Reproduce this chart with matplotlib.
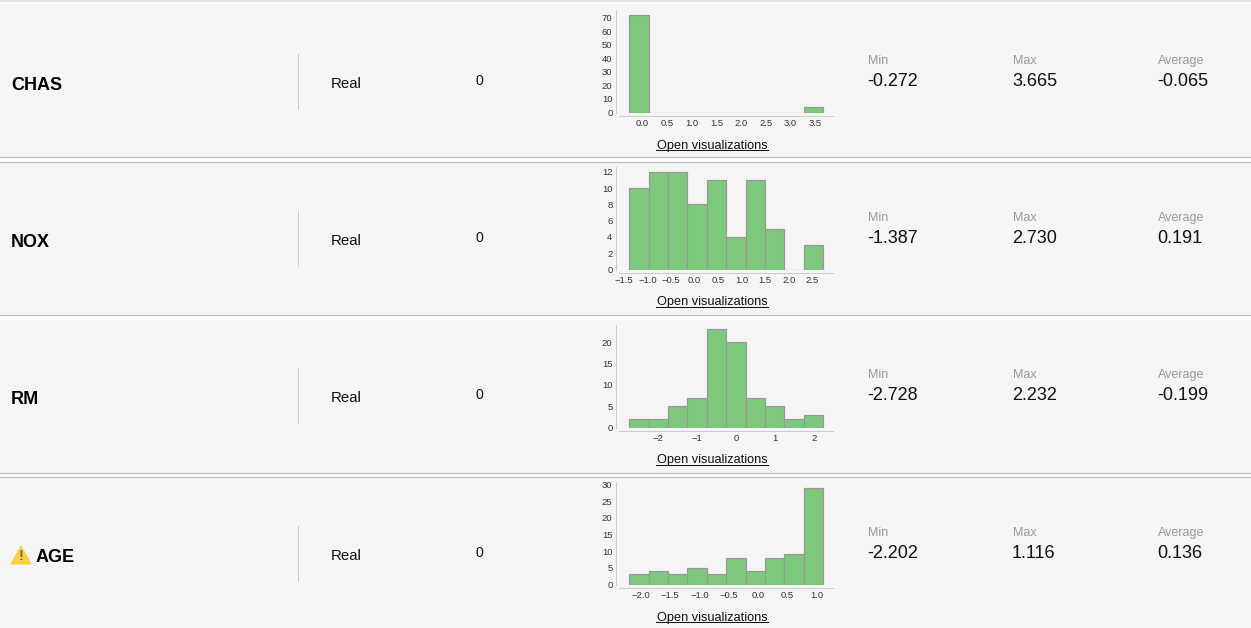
import numpy as np
import matplotlib
matplotlib.use("Agg")
import matplotlib.pyplot as plt
from matplotlib.patches import Polygon, Rectangle

W, H = 1251, 628
plt.rcParams['font.family'] = ['Liberation Sans', 'DejaVu Sans']

names = ["CHAS", "NOX", "RM", "AGE"]
types = ["Real", "Real", "Real", "Real"]
missing = [0, 0, 0, 0]
mins = [-0.272, -1.387, -2.728, -2.202]
maxs = [3.665, 2.730, 2.232, 1.116]
avgs = [-0.065, 0.191, -0.199, 0.136]

chas_counts = [72, 0, 0, 0, 0, 0, 0, 0, 0, 4]
nox_counts = [10, 12, 12, 8, 11, 4, 11, 5, 0, 3]
rm_counts = [2, 2, 5, 7, 23, 20, 7, 5, 2, 3]
age_counts = [3, 4, 3, 5, 3, 8, 4, 8, 9, 29]
counts = [chas_counts, nox_counts, rm_counts, age_counts]

xticks = [
    [0.0, 0.5, 1.0, 1.5, 2.0, 2.5, 3.0, 3.5],
    [-1.5, -1.0, -0.5, 0.0, 0.5, 1.0, 1.5, 2.0, 2.5],
    [-2, -1, 0, 1, 2],
    [-2.0, -1.5, -1.0, -0.5, 0.0, 0.5, 1.0],
]
yticks = [
    [0, 10, 20, 30, 40, 50, 60, 70],
    [0, 2, 4, 6, 8, 10, 12],
    [0, 5, 10, 15, 20],
    [0, 5, 10, 15, 20, 25, 30],
]

# pixel layout of each row
row_top = [5, 163, 320, 478]
row_bot = [157, 315, 473, 628]
sep_top = [54, 211, 368, 526]
axis_y0 = [112.5, 269.5, 427.5, 584.5]
axis_top = [10, 167, 325, 482]
axis_ymax = [75.9, 12.6, 24.0, 30.7]

fig = plt.figure(figsize=(W / 100, H / 100), dpi=100, facecolor="white")
bg = fig.add_axes([0, 0, 1, 1])
bg.set_xlim(0, W)
bg.set_ylim(H, 0)
bg.axis("off")


def px(v):
    return v * 72 / 100


for i in range(4):
    bg.add_patch(Rectangle((0, row_top[i]), W, row_bot[i] - row_top[i], fc="#f5f5f5", ec="none"))
    if i < 3:
        bg.plot([0, W], [row_bot[i], row_bot[i]], color="#bdbdbd", lw=px(1.2))
    bg.plot([298, 298], [sep_top[i], sep_top[i] + 55], color="#cccccc", lw=px(1))
    bg.text(331, sep_top[i] + 29.7, types[i], fontsize=px(15), color="#111111", va="center")
    bg.text(475, sep_top[i] + 27.3, str(missing[i]), fontsize=px(14), color="#111111", va="center")
    label_x = 36 if names[i] == "AGE" else 11
    bg.text(label_x, sep_top[i] + 31.5, names[i], fontsize=px(18), fontweight="bold", color="#000000", va="center")
    for x, head, val in zip([868, 1013, 1158], ["Min", "Max", "Average"], [mins[i], maxs[i], avgs[i]]):
        bg.text(x, sep_top[i] + 7, head, fontsize=px(12.5), color="#999999", va="center")
        bg.text(x - 1, sep_top[i] + 27.7, f"{val:.3f}", fontsize=px(18), color="#111111", va="center")
    bg.text(712, axis_y0[i] + 33, "Open visualizations", fontsize=px(12.8), color="#111111", va="center", ha="center")
    bg.plot([656, 768], [axis_y0[i] + 37.5, axis_y0[i] + 37.5], color="#111111", lw=px(1))

    # histogram
    left, right = 619, 833.5
    ax = fig.add_axes([left / W, 1 - axis_y0[i] / H, (right - left) / W, (axis_y0[i] - axis_top[i]) / H])
    ax.patch.set_alpha(0)
    edges = np.linspace(mins[i], maxs[i], 11)
    unit = (maxs[i] - mins[i]) / 194.4
    ax.set_xlim(mins[i] - 10.3 * unit, maxs[i] + 10.3 * unit)
    ax.bar(edges[:-1], counts[i], width=np.diff(edges), align="edge", color="#7ec87e", edgecolor="#999999", lw=px(1.2))
    ax.set_ylim(0, axis_ymax[i])
    ax.set_xticks(xticks[i])
    ax.set_yticks(yticks[i])
    ax.tick_params(length=0, labelsize=px(9.5), colors="#333333", pad=2.5)
    for s in ["top", "right"]:
        ax.spines[s].set_visible(False)
    ax.spines["bottom"].set_position(("outward", 2.2))
    ax.spines["left"].set_position(("outward", 2.2))
    ax.spines["bottom"].set_color("#cccccc")
    ax.spines["left"].set_color("#cccccc")
    ax.spines["bottom"].set_linewidth(px(1))
    ax.spines["left"].set_linewidth(px(1))

# lines above the rows
bg.plot([0, W], [0.5, 0.5], color="#dddddd", lw=px(1.5))
bg.plot([0, W], [162, 162], color="#bdbdbd", lw=px(1.2))
bg.plot([0, W], [477, 477], color="#bdbdbd", lw=px(1.2))

# warning icon next to AGE
bg.add_patch(Polygon([[21, 546], [31, 564], [11, 564]], closed=True, fc="#fdd13e", ec="#fdc93a", lw=px(1), joinstyle="round"))
bg.text(20.8, 556, "!", fontsize=px(15), fontweight="bold", color="#6e6a50", ha="center", va="center")

fig.savefig("out.png", dpi=100)
